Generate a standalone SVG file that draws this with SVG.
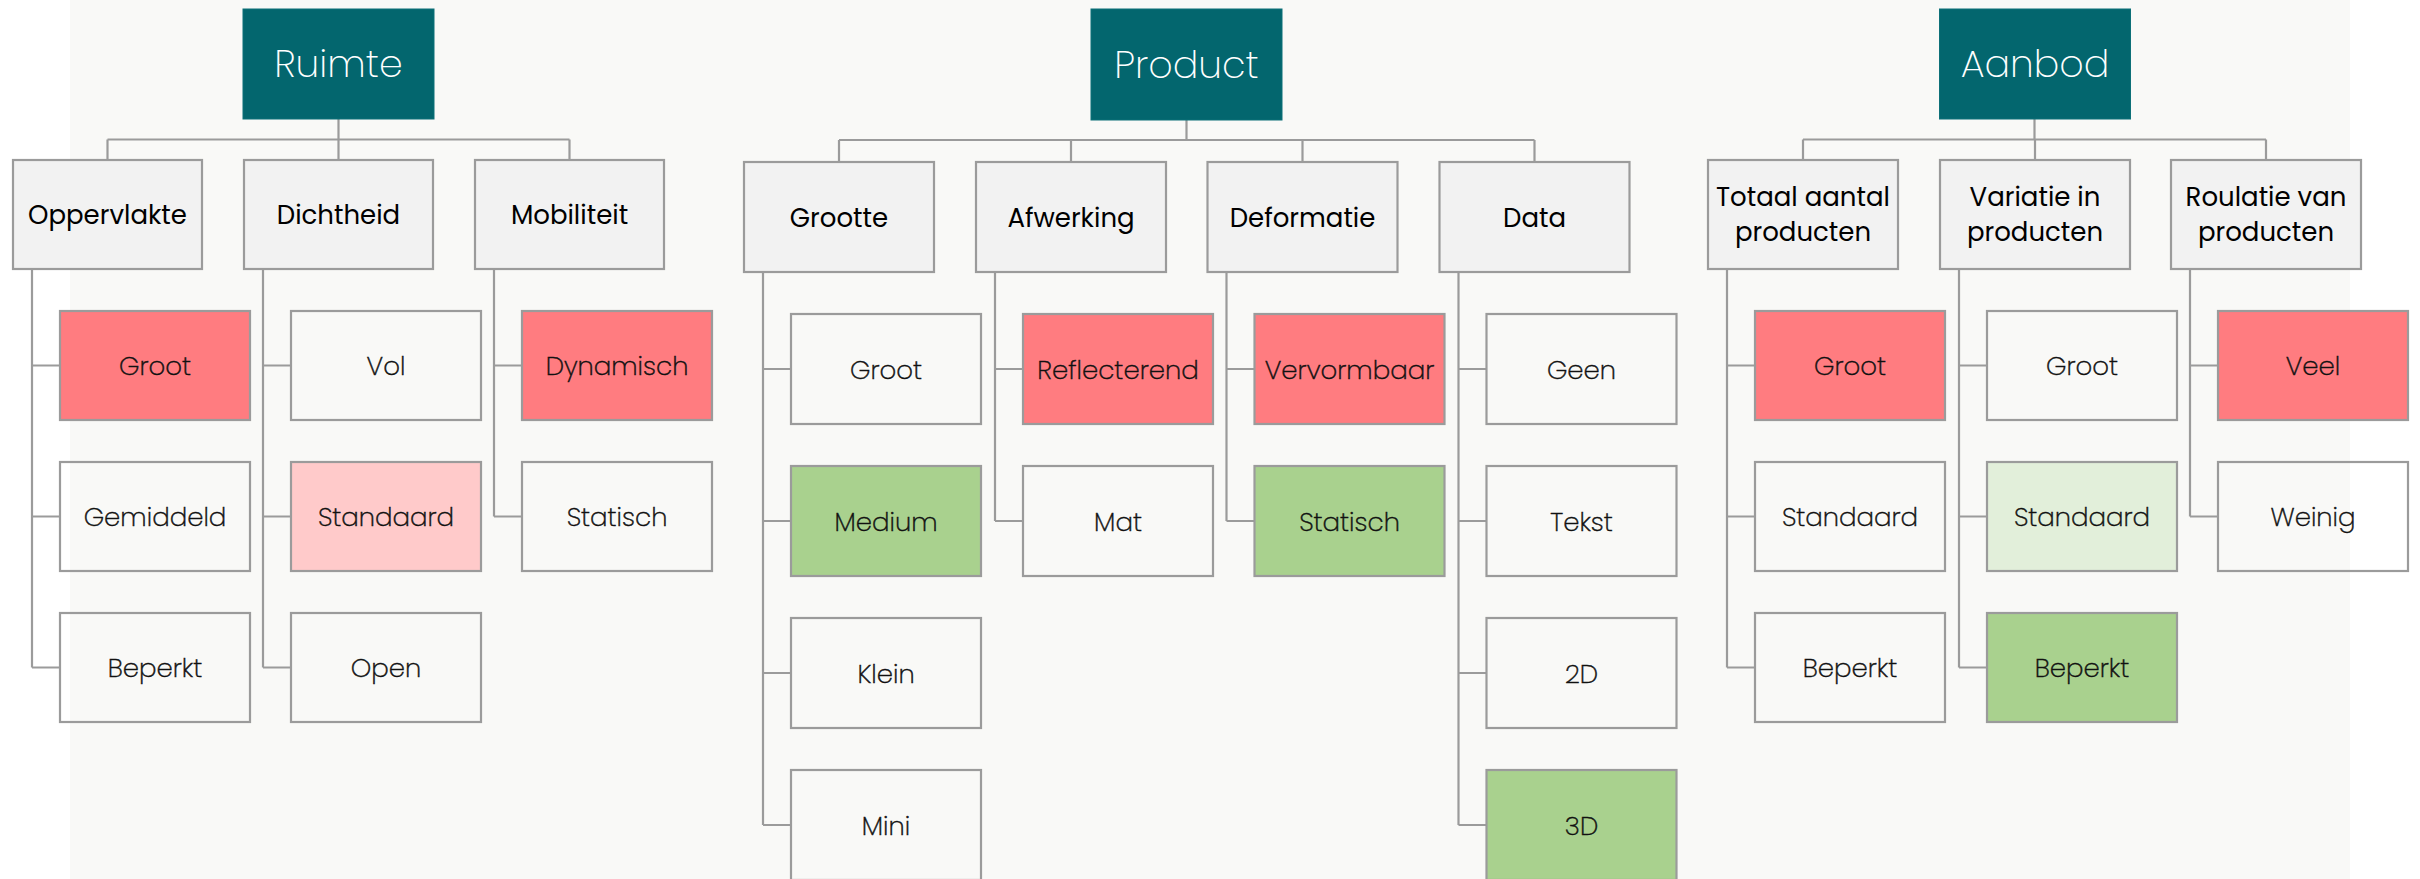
<svg xmlns="http://www.w3.org/2000/svg" width="2420" height="879" viewBox="0 0 2420 879">
  <style>
    .root rect { fill: #03666e; stroke: #0d7078; stroke-width: 1; }
    .root text { fill: #ffffff; font-family: "Poppins ExtraLight", "Poppins Light", Poppins, Inter, "Open Sans", sans-serif; font-weight: 200; font-size: 38px; text-anchor: middle; }
    .cat rect { fill: #f2f2f2; stroke: #9b9b9b; stroke-width: 2.2; }
    .cat text { fill: #000000; font-family: Poppins, Inter, "Open Sans", sans-serif; font-weight: 400; font-size: 26px; text-anchor: middle; }
    .opt rect { fill: none; stroke: #9b9b9b; stroke-width: 2.2; }
    .opt text { fill: #111111; stroke: #111111; stroke-width: 0.45; font-family: "Poppins ExtraLight", "Poppins Light", Poppins, Inter, "Open Sans", sans-serif; font-weight: 200; font-size: 26px; text-anchor: middle; }
    .opt.red rect { fill: #ff7c80; }
    .opt.pink rect { fill: #ffcaca; }
    .opt.green rect { fill: #a9d18e; }
    .opt.lgreen rect { fill: #e2efda; }
    #connectors path { fill: none; stroke: #9b9b9b; stroke-width: 2.2; }
  </style>

  <!-- canvas -->
  <rect x="0" y="0" width="2420" height="879" fill="#ffffff"/>
  <rect x="70" y="0" width="2280" height="879" fill="#f9f9f7"/>

  <g id="connectors">
    <!-- Ruimte -->
    <path d="M338.5 119 V139.5 M107.5 139.5 H569.5 M107.5 139.5 V160 M338.5 139.5 V160 M569.5 139.5 V160"/>
    <path d="M32 269 V667.5 M32 365.5 H60 M32 516.5 H60 M32 667.5 H60"/>
    <path d="M263 269 V667.5 M263 365.5 H291 M263 516.5 H291 M263 667.5 H291"/>
    <path d="M494 269 V516.5 M494 365.5 H522 M494 516.5 H522"/>
    <!-- Product -->
    <path d="M1186.5 120 V140 M839 140 H1534.5 M839 140 V162 M1071 140 V162 M1302.5 140 V162 M1534.5 140 V162"/>
    <path d="M763 272 V825 M763 369 H791 M763 521 H791 M763 673 H791 M763 825 H791"/>
    <path d="M995 272 V521 M995 369 H1023 M995 521 H1023"/>
    <path d="M1226.5 272 V521 M1226.5 369 H1254.5 M1226.5 521 H1254.5"/>
    <path d="M1458.5 272 V825 M1458.5 369 H1486.5 M1458.5 521 H1486.5 M1458.5 673 H1486.5 M1458.5 825 H1486.5"/>
    <!-- Aanbod -->
    <path d="M2034.5 119 V139.5 M1803 139.5 H2266 M1803 139.5 V160 M2035 139.5 V160 M2266 139.5 V160"/>
    <path d="M1727 269 V667.5 M1727 365.5 H1755 M1727 516.5 H1755 M1727 667.5 H1755"/>
    <path d="M1959 269 V667.5 M1959 365.5 H1987 M1959 516.5 H1987 M1959 667.5 H1987"/>
    <path d="M2190 269 V516.5 M2190 365.5 H2218 M2190 516.5 H2218"/>
  </g>

  <!-- Ruimte -->
  <g id="ruimte" class="root"><rect x="243" y="9" width="191" height="110"/><text x="338.5" y="77">Ruimte</text></g>
  <g id="oppervlakte" class="cat"><rect x="13" y="160" width="189" height="109"/><text x="107.5" y="224">Oppervlakte</text></g>
  <g id="dichtheid" class="cat"><rect x="244" y="160" width="189" height="109"/><text x="338.5" y="224">Dichtheid</text></g>
  <g id="mobiliteit" class="cat"><rect x="475" y="160" width="189" height="109"/><text x="569.5" y="224">Mobiliteit</text></g>

  <g id="opp-groot" class="opt red"><rect x="60" y="311" width="190" height="109"/><text x="155" y="375">Groot</text></g>
  <g id="opp-gemiddeld" class="opt"><rect x="60" y="462" width="190" height="109"/><text x="155" y="526">Gemiddeld</text></g>
  <g id="opp-beperkt" class="opt"><rect x="60" y="613" width="190" height="109"/><text x="155" y="677">Beperkt</text></g>

  <g id="dicht-vol" class="opt"><rect x="291" y="311" width="190" height="109"/><text x="386" y="375">Vol</text></g>
  <g id="dicht-standaard" class="opt pink"><rect x="291" y="462" width="190" height="109"/><text x="386" y="526">Standaard</text></g>
  <g id="dicht-open" class="opt"><rect x="291" y="613" width="190" height="109"/><text x="386" y="677">Open</text></g>

  <g id="mob-dynamisch" class="opt red"><rect x="522" y="311" width="190" height="109"/><text x="617" y="375">Dynamisch</text></g>
  <g id="mob-statisch" class="opt"><rect x="522" y="462" width="190" height="109"/><text x="617" y="526">Statisch</text></g>

  <!-- Product -->
  <g id="product" class="root"><rect x="1091" y="9" width="191" height="111"/><text x="1186.5" y="78">Product</text></g>
  <g id="grootte" class="cat"><rect x="744" y="162" width="190" height="110"/><text x="839" y="226.5">Grootte</text></g>
  <g id="afwerking" class="cat"><rect x="976" y="162" width="190" height="110"/><text x="1071" y="226.5">Afwerking</text></g>
  <g id="deformatie" class="cat"><rect x="1207.5" y="162" width="190" height="110"/><text x="1302.5" y="226.5">Deformatie</text></g>
  <g id="data" class="cat"><rect x="1439.5" y="162" width="190" height="110"/><text x="1534.5" y="226.5">Data</text></g>

  <g id="gr-groot" class="opt"><rect x="791" y="314" width="190" height="110"/><text x="886" y="378.5">Groot</text></g>
  <g id="gr-medium" class="opt green"><rect x="791" y="466" width="190" height="110"/><text x="886" y="530.5">Medium</text></g>
  <g id="gr-klein" class="opt"><rect x="791" y="618" width="190" height="110"/><text x="886" y="682.5">Klein</text></g>
  <g id="gr-mini" class="opt"><rect x="791" y="770" width="190" height="110"/><text x="886" y="834.5">Mini</text></g>

  <g id="afw-reflecterend" class="opt red"><rect x="1023" y="314" width="190" height="110"/><text x="1118" y="378.5">Reflecterend</text></g>
  <g id="afw-mat" class="opt"><rect x="1023" y="466" width="190" height="110"/><text x="1118" y="530.5">Mat</text></g>

  <g id="def-vervormbaar" class="opt red"><rect x="1254.5" y="314" width="190" height="110"/><text x="1349.5" y="378.5">Vervormbaar</text></g>
  <g id="def-statisch" class="opt green"><rect x="1254.5" y="466" width="190" height="110"/><text x="1349.5" y="530.5">Statisch</text></g>

  <g id="data-geen" class="opt"><rect x="1486.5" y="314" width="190" height="110"/><text x="1581.5" y="378.5">Geen</text></g>
  <g id="data-tekst" class="opt"><rect x="1486.5" y="466" width="190" height="110"/><text x="1581.5" y="530.5">Tekst</text></g>
  <g id="data-2d" class="opt"><rect x="1486.5" y="618" width="190" height="110"/><text x="1581.5" y="682.5">2D</text></g>
  <g id="data-3d" class="opt green"><rect x="1486.5" y="770" width="190" height="110"/><text x="1581.5" y="834.5">3D</text></g>

  <!-- Aanbod -->
  <g id="aanbod" class="root"><rect x="1939.5" y="9" width="191" height="110"/><text x="2035" y="77">Aanbod</text></g>
  <g id="totaal" class="cat"><rect x="1708" y="160" width="190" height="109"/><text x="1803" y="206">Totaal aantal</text><text x="1803" y="241">producten</text></g>
  <g id="variatie" class="cat"><rect x="1940" y="160" width="190" height="109"/><text x="2035" y="206">Variatie in</text><text x="2035" y="241">producten</text></g>
  <g id="roulatie" class="cat"><rect x="2171" y="160" width="190" height="109"/><text x="2266" y="206">Roulatie van</text><text x="2266" y="241">producten</text></g>

  <g id="tot-groot" class="opt red"><rect x="1755" y="311" width="190" height="109"/><text x="1850" y="375">Groot</text></g>
  <g id="tot-standaard" class="opt"><rect x="1755" y="462" width="190" height="109"/><text x="1850" y="526">Standaard</text></g>
  <g id="tot-beperkt" class="opt"><rect x="1755" y="613" width="190" height="109"/><text x="1850" y="677">Beperkt</text></g>

  <g id="var-groot" class="opt"><rect x="1987" y="311" width="190" height="109"/><text x="2082" y="375">Groot</text></g>
  <g id="var-standaard" class="opt lgreen"><rect x="1987" y="462" width="190" height="109"/><text x="2082" y="526">Standaard</text></g>
  <g id="var-beperkt" class="opt green"><rect x="1987" y="613" width="190" height="109"/><text x="2082" y="677">Beperkt</text></g>

  <g id="rou-veel" class="opt red"><rect x="2218" y="311" width="190" height="109"/><text x="2313" y="375">Veel</text></g>
  <g id="rou-weinig" class="opt"><rect x="2218" y="462" width="190" height="109"/><text x="2313" y="526">Weinig</text></g>
</svg>
